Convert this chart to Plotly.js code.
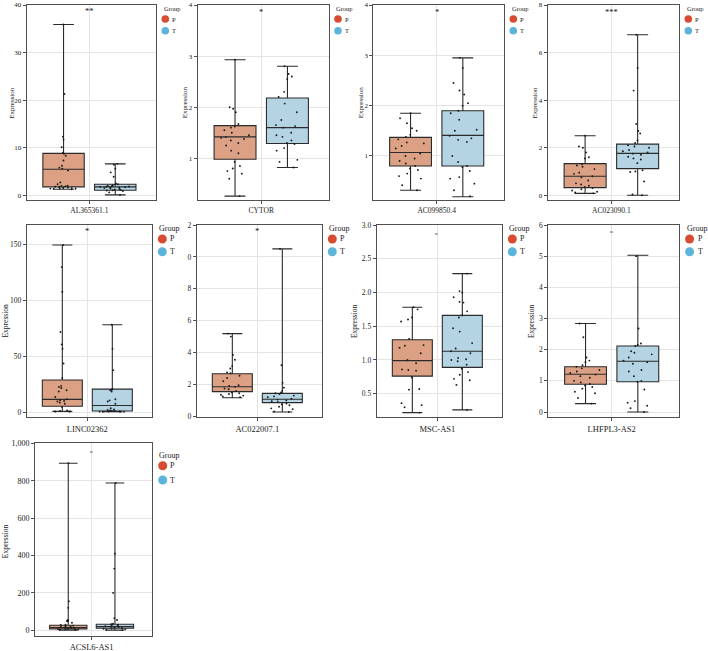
<!DOCTYPE html>
<html>
<head>
<meta charset="utf-8">
<script src="https://cdn.plot.ly/plotly-3.0.1.min.js"></script>
<style>html,body{margin:0;padding:0;background:#fff;}#chart{width:708px;height:651px;}</style>
</head>
<body>
<div id="chart"></div>
<script>
// ---------- data ----------
const genes = ['AL365361.1','CYTOR','AC099850.4','AC023090.1','LINC02362','AC022007.1','MSC-AS1','LHFPL3-AS2','ACSL6-AS1'];
const groups = ['P','T'];
const signifText = ['**','*','*','***','*','*','ns','ns','ns'];
const signifY = [38.7, 3.86, 3.86, 7.7, 162.5, 11.65, 2.87, 5.76, 955];

// box statistics (whiskers run to min / max)
const P_lower = [1.26, 0.26, 0.32, 0.08, 1.2, 1.17, 0.22, 0.27, 0];
const P_q1    = [1.75, 0.98, 0.80, 0.32, 5.7, 1.55, 0.76, 0.89, 7];
const P_med   = [5.45, 1.42, 1.07, 0.80, 11.9, 1.86, 0.99, 1.21, 14.3];
const P_q3    = [8.8, 1.64, 1.37, 1.33, 29.2, 2.67, 1.30, 1.45, 26.7];
const P_upper = [35.9, 2.93, 1.85, 2.5, 149.7, 5.19, 1.78, 2.84, 893];

const T_lower = [0.07, 0.82, 0.19, 0.0, 0.9, 0.27, 0.26, 0.0, 1];
const T_q1    = [1.05, 1.29, 0.80, 1.12, 1.5, 0.86, 0.89, 0.97, 10.7];
const T_med   = [1.75, 1.60, 1.41, 1.76, 6.5, 1.07, 1.13, 1.63, 19.6];
const T_q3    = [2.3, 2.18, 1.90, 2.15, 21.1, 1.44, 1.66, 2.12, 32];
const T_upper = [6.6, 2.80, 2.95, 6.75, 78.6, 10.5, 2.28, 5.03, 788];

// individual samples
const AL365361_P = [35.9, 21.3, 12.3, 11.7, 10.1, 8.95, 8.7, 8.3, 7.3, 6.2, 5.8, 5.6, 5.2, 2.7, 2.3, 2.0, 1.95, 1.85, 1.8, 1.7, 1.6, 1.55, 1.5, 1.45, 1.4, 1.35, 1.3, 1.26];
const AL365361_T = [6.6, 6.4, 5.6, 4.8, 3.9, 2.5, 2.3, 2.2, 2.1, 2.0, 1.9, 1.85, 1.8, 1.75, 1.7, 1.65, 1.6, 1.5, 1.4, 1.3, 1.2, 1.1, 1.05, 1.0, 0.9, 0.6, 0.07];
const CYTOR_P = [2.93, 2.0, 1.97, 1.9, 1.67, 1.62, 1.6, 1.55, 1.5, 1.45, 1.42, 1.4, 1.38, 1.35, 1.3, 1.25, 1.15, 1.1, 0.93, 0.85, 0.8, 0.75, 0.7, 0.6, 0.26];
const CYTOR_T = [2.8, 2.65, 2.6, 2.55, 2.3, 2.2, 2.07, 1.9, 1.75, 1.65, 1.63, 1.6, 1.5, 1.45, 1.42, 1.35, 1.3, 1.28, 1.2, 1.15, 0.97, 0.93, 0.82];
const AC099850_P = [1.85, 1.75, 1.65, 1.55, 1.5, 1.42, 1.38, 1.33, 1.27, 1.25, 1.2, 1.15, 1.05, 1.0, 0.95, 0.9, 0.85, 0.8, 0.75, 0.72, 0.65, 0.6, 0.55, 0.42, 0.32];
const AC099850_T = [2.95, 2.75, 2.45, 2.3, 2.22, 2.05, 2.0, 1.9, 1.85, 1.72, 1.52, 1.5, 1.4, 1.35, 1.32, 1.28, 1.0, 0.88, 0.8, 0.78, 0.7, 0.58, 0.55, 0.45, 0.32, 0.2];
const AC023090_P = [2.5, 2.05, 2.0, 1.8, 1.6, 1.55, 1.3, 1.25, 1.2, 1.1, 0.95, 0.9, 0.8, 0.75, 0.62, 0.5, 0.45, 0.4, 0.35, 0.3, 0.25, 0.2, 0.15, 0.12, 0.08];
const AC023090_T = [6.75, 5.35, 4.4, 3.0, 2.7, 2.6, 2.3, 2.2, 2.1, 2.05, 2.0, 1.9, 1.85, 1.8, 1.75, 1.7, 1.62, 1.55, 1.5, 1.35, 1.05, 1.0, 0.98, 0.58, 0.03, 0.0];
const LINC02362_P = [149.7, 130, 108, 72, 61, 57, 44, 31, 24, 23, 22, 20, 19, 14, 12, 11, 10.5, 10, 9, 8, 5, 2, 1.5, 1.2, 1.0, 1.0, 1.1];
const LINC02362_T = [78.6, 57, 38, 21, 20.5, 20, 19, 12, 11, 10, 8, 4, 3, 2.5, 2, 1.8, 1.5, 1.2, 1.0, 1.0, 0.9, 0.9, 0.95];
const AC022007_P = [5.19, 5.0, 3.85, 3.55, 3.15, 3.0, 2.75, 2.7, 2.55, 2.4, 2.2, 1.95, 1.9, 1.85, 1.75, 1.7, 1.6, 1.5, 1.45, 1.4, 1.35, 1.3, 1.25, 1.2];
const AC022007_T = [10.5, 3.2, 2.1, 1.8, 1.6, 1.5, 1.45, 1.4, 1.3, 1.25, 1.2, 1.1, 1.05, 1.0, 0.95, 0.9, 0.8, 0.75, 0.7, 0.6, 0.5, 0.45, 0.3, 0.27];
const MSCAS1_P = [1.78, 1.75, 1.63, 1.6, 1.57, 1.31, 1.22, 1.21, 1.18, 1.1, 1.0, 0.95, 0.86, 0.85, 0.84, 0.74, 0.57, 0.56, 0.36, 0.33, 0.3, 0.22];
const MSCAS1_T = [2.28, 2.02, 2.0, 1.93, 1.86, 1.85, 1.72, 1.66, 1.63, 1.47, 1.42, 1.25, 1.17, 1.13, 1.1, 1.03, 1.01, 1.0, 0.98, 0.93, 0.87, 0.82, 0.78, 0.72, 0.7, 0.63, 0.26];
const LHFPL3AS2_P = [2.84, 2.4, 1.75, 1.65, 1.6, 1.5, 1.45, 1.4, 1.35, 1.3, 1.25, 1.2, 1.15, 1.1, 1.0, 0.95, 0.9, 0.85, 0.8, 0.75, 0.65, 0.6, 0.45, 0.27];
const LHFPL3AS2_T = [5.0, 2.68, 2.2, 2.15, 2.12, 1.95, 1.9, 1.85, 1.75, 1.65, 1.6, 1.55, 1.35, 1.3, 1.15, 1.0, 0.97, 0.72, 0.35, 0.3, 0.2, 0.12, 0.0];
const ACSL6AS1_P = [893, 155, 120, 55, 50, 48, 40, 30, 28, 25, 22, 20, 18, 15, 12, 10, 8, 6, 5, 4, 3, 2];
const ACSL6AS1_T = [788, 410, 330, 200, 65, 55, 35, 32, 30, 28, 25, 22, 20, 18, 15, 12, 10, 8, 5, 3, 1];

const samplesP = [AL365361_P, CYTOR_P, AC099850_P, AC023090_P, LINC02362_P, AC022007_P, MSCAS1_P, LHFPL3AS2_P, ACSL6AS1_P];
const samplesT = [AL365361_T, CYTOR_T, AC099850_T, AC023090_T, LINC02362_T, AC022007_T, MSCAS1_T, LHFPL3AS2_T, ACSL6AS1_T];

// y-axis tick labels (as printed; panel 6 shows clipped "10"/"12")
const yTickVals = [
  [0,10,20,30,40],[1,2,3,4],[1,2,3,4],[0,2,4,6,8],
  [0,50,100,150],[0,2,4,6,8,10,12],[0.5,1,1.5,2,2.5,3],[0,1,2,3,4,5,6],
  [0,200,400,600,800,1000]
];
const yTickText = [
  ['0','10','20','30','40'],['1','2','3','4'],['1','2','3','4'],['0','2','4','6','8'],
  ['0','50','100','150'],['0','2','4','6','8','0','2'],['0.5','1.0','1.5','2.0','2.5','3.0'],['0','1','2','3','4','5','6'],
  ['0','200','400','600','800','1,000']
];

// ---------- layout / style ----------
const W = 708, H = 651;
const FONT = 'Liberation Serif, Times New Roman, serif';
const colBoxP = '#DCA084', colBoxT = '#B4D4E4';
const colLegP = '#D64B32', colLegT = '#5DB4DB';
const frame = '#505050', grid = '#E4E4E4';

// plot-area rectangles in px: [left, right, top, bottom]
const rect = [
  [26.7,156,5,200],[197.7,328.7,5,200],[373.3,504,5,200],[547.7,679,5,200],
  [26.7,151.7,225,417.3],[196.7,321.7,225,417.3],[376.7,501.7,225,417.3],[548.3,679,225,417.3],
  [35,151.7,443.3,635.7]
];
const yRange = [[-1.0,40],[0.184,4],[0.125,4],[-0.2,8],[-4.1,167.6],[-0.06,12],[0.15,3.0],[-0.17,6],[-28.9,1000]];
const row = [1,1,1,1,2,2,2,2,3];
const exprPos = [[11.3,102.5],[184.7,102.5],[360.8,102.5],[534,102.5],[4.5,321],null,[354,321],[531,321],[5.5,541.7]];

const st = {
  1: {tick:7, cat:7.5, expr:7, leg:6.5, r:3.8, gY:3.3, pY:14, tY:25.7, cX:9.3, tX:14},
  2: {tick:7.5, cat:8.5, expr:7.5, leg:8, r:4.5, gY:3.3, pY:14, tY:26.7, cX:10.6, tX:16.5},
  3: {tick:8, cat:8.5, expr:7.5, leg:8, r:4.5, gY:11.7, pY:22.4, tY:36.7, cX:11, tX:16.5}
};

const px = x => x / W, py = y => 1 - y / H;

const traces = [];
const layout = {
  width: W, height: H,
  margin: {l:0, r:0, t:0, b:0},
  paper_bgcolor: '#fff', plot_bgcolor: '#fff',
  showlegend: false,
  boxmode: 'group', boxgap: 0.2, boxgroupgap: 0.2,
  font: {family: FONT, color: '#222'},
  annotations: [], shapes: []
};

genes.forEach((g, i) => {
  const k = i + 1;
  const xa = 'x' + (k === 1 ? '' : k), ya = 'y' + (k === 1 ? '' : k);
  const xk = 'xaxis' + (k === 1 ? '' : k), yk = 'yaxis' + (k === 1 ? '' : k);
  const [l, r, t, b] = rect[i];
  const s = st[row[i]];

  layout[xk] = {
    domain: [px(l), px(r)], anchor: ya, type: 'category',
    range: [-0.485, 0.515], showline: true, mirror: true, linecolor: frame, linewidth: 1,
    ticks: 'outside', ticklen: 3, tickcolor: frame, tickwidth: 1,
    showgrid: true, gridcolor: grid, gridwidth: 1, zeroline: false,
    tickfont: {family: FONT, size: s.cat, color: '#222'}, fixedrange: true
  };
  layout[yk] = {
    domain: [py(b), py(t)], anchor: xa, range: yRange[i],
    tickmode: 'array', tickvals: yTickVals[i], ticktext: yTickText[i],
    showline: true, mirror: true, linecolor: frame, linewidth: 1,
    ticks: 'outside', ticklen: 3, tickcolor: frame, tickwidth: 1,
    showgrid: true, gridcolor: grid, gridwidth: 1, zeroline: false,
    tickfont: {family: FONT, size: s.tick, color: '#222'}, fixedrange: true
  };

  const stats = {
    P: {lo: P_lower[i], q1: P_q1[i], med: P_med[i], q3: P_q3[i], hi: P_upper[i], fill: colBoxP, pts: samplesP[i]},
    T: {lo: T_lower[i], q1: T_q1[i], med: T_med[i], q3: T_q3[i], hi: T_upper[i], fill: colBoxT, pts: samplesT[i]}
  };
  groups.forEach(gr => {
    const d = stats[gr];
    traces.push({
      type: 'box', name: gr, xaxis: xa, yaxis: ya, x: [g],
      q1: [d.q1], median: [d.med], q3: [d.q3], lowerfence: [d.lo], upperfence: [d.hi],
      offsetgroup: gr, boxpoints: false, whiskerwidth: 0.5,
      fillcolor: d.fill, line: {color: '#2b2b2b', width: 1.1}, hoverinfo: 'skip'
    });
    traces.push({
      type: 'box', name: gr, xaxis: xa, yaxis: ya,
      x: d.pts.map(() => g), y: d.pts,
      offsetgroup: gr, boxpoints: 'all', jitter: 0.75, pointpos: 0, whiskerwidth: 0,
      fillcolor: 'rgba(0,0,0,0)', line: {color: 'rgba(0,0,0,0)', width: 0},
      marker: {size: 1.9, color: '#1a1a1a'}, hoverinfo: 'y'
    });
  });

  // significance label
  const ns = signifText[i] === 'ns';
  layout.annotations.push({
    xref: xa, yref: ya, x: g, y: signifY[i], text: signifText[i], showarrow: false,
    font: {family: FONT, size: ns ? 3 : 8.5, color: '#111'}
  });

  // y title
  if (exprPos[i]) {
    layout.annotations.push({
      xref: 'paper', yref: 'paper', x: px(exprPos[i][0]), y: py(exprPos[i][1]),
      text: 'Expression', textangle: -90, showarrow: false,
      xanchor: 'center', yanchor: 'middle',
      font: {family: FONT, size: s.expr, color: '#222'}
    });
  }

  // legend (Group / P / T)
  layout.annotations.push({
    xref: 'paper', yref: 'paper', x: px(r + 5.5), y: py(t + s.gY), text: 'Group', showarrow: false,
    xanchor: 'left', yanchor: 'middle', font: {family: FONT, size: s.leg, color: '#222'}
  });
  [['P', colLegP, s.pY], ['T', colLegT, s.tY]].forEach(([lab, col, dy]) => {
    layout.shapes.push({
      type: 'circle', xref: 'paper', yref: 'paper',
      xsizemode: 'pixel', ysizemode: 'pixel',
      xanchor: px(r + s.cX), yanchor: py(t + dy),
      x0: -s.r, x1: s.r, y0: -s.r, y1: s.r,
      fillcolor: col, line: {width: 0}
    });
    layout.annotations.push({
      xref: 'paper', yref: 'paper', x: px(r + s.tX), y: py(t + dy), text: lab, showarrow: false,
      xanchor: 'left', yanchor: 'middle', font: {family: FONT, size: s.leg, color: '#222'}
    });
  });
});

Plotly.newPlot('chart', traces, layout, {staticPlot: true, displayModeBar: false});
</script>
</body>
</html>
